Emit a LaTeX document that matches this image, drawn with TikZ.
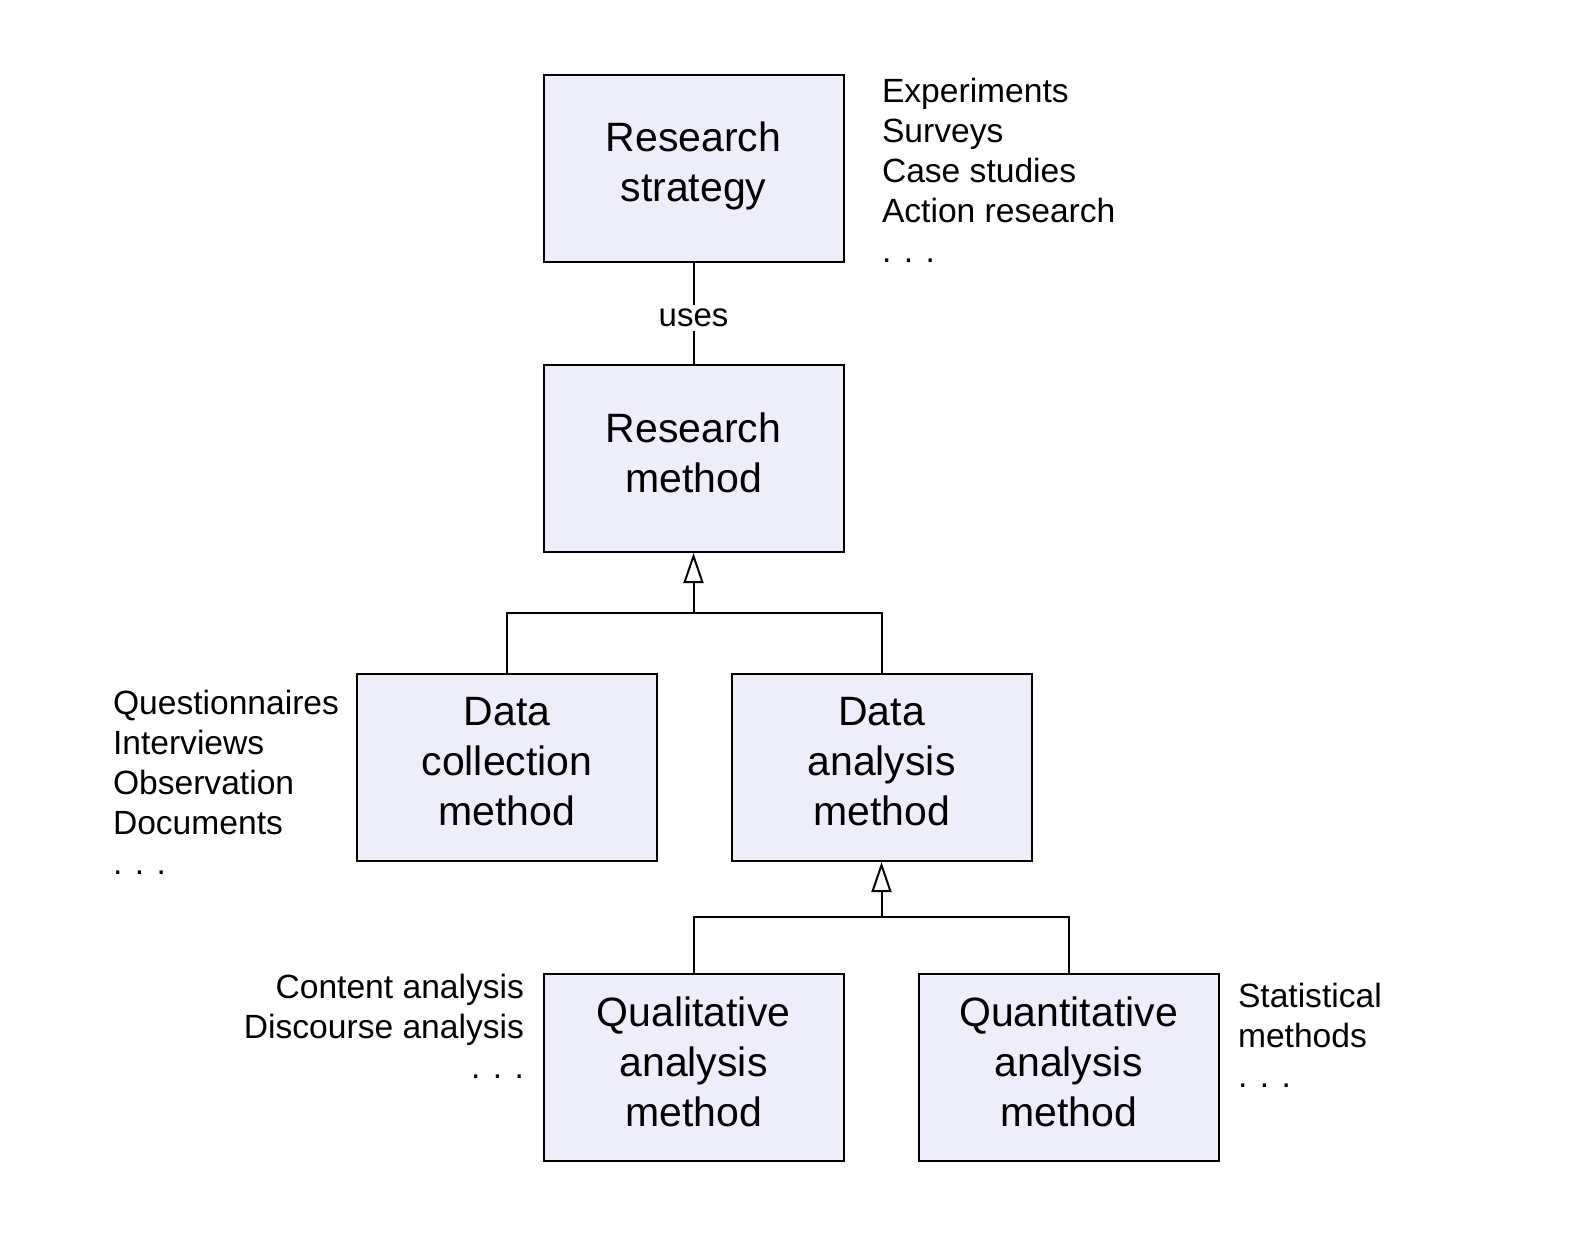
\documentclass[tikz,border=0pt]{standalone}
\usepackage{fontspec}
\setmainfont{Liberation Sans}
\usetikzlibrary{arrows.meta}
\definecolor{boxfill}{RGB}{238,238,251}

\tikzset{
	box/.style={draw, line width=1pt, fill=boxfill, minimum width=150pt, minimum height=93.5pt,
		align=center, text depth=6pt, font=\fontsize{20.5}{25}\selectfont},
	note/.style={inner sep=0pt, font=\fontsize{16.8}{20}\selectfont},
	isa/.style={-{Triangle[open, length=15pt, width=10pt]}},
}

\begin{document}
\begin{tikzpicture}[x=0.5pt, y=-0.5pt, line width=1pt]
\useasboundingbox[fill=white] (0,0) rectangle (1575,1238);
\node (strat) at (693.5,168) [box] {Research\\strategy};
\node (meth) at (693.5,458.5) [box] {Research\\method};
	\draw (strat) -- node[fill=white, inner sep=2pt, yshift=-2.5pt, font=\fontsize{16.5}{20}\selectfont] (uses) {uses} (meth);
\node (coll) at (507,767.5) [box] {Data\\collection\\method};
\node (anal) at (881.5,767.5) [box] {Data\\analysis\\method};
	\coordinate (j1) at (693.5,613);
	\draw (coll.north) |- (j1);
	\draw (anal.north) |- (j1);
	\draw[isa] (j1) -- (meth.south);
\node (qual) at (693.5,1067.5) [box] {Qualitative\\analysis\\method};
\node (quant) at (1068.5,1067.5) [box] {Quantitative\\analysis\\method};
	\coordinate (j2) at (881.5,917);
	\draw (qual.north) |- (j2);
	\draw (quant.north) |- (j2);
	\draw[isa] (j2) -- (anal.south);
% side lists
\node (stratlist) at (881,77) [note, anchor=north west, align=left] {Experiments\\Surveys\\Case studies\\Action research\\. . .};
\node (colllist) at (112,689) [note, anchor=north west, align=left] {Questionnaires\\Interviews\\Observation\\Documents\\. . .};
\node (quallist) at (525,973) [note, anchor=north east, align=right] {Content analysis\\Discourse analysis\\. . .};
\node (quantlist) at (1237,982) [note, anchor=north west, align=left] {Statistical\\methods\\. . .};
\end{tikzpicture}
\end{document}
